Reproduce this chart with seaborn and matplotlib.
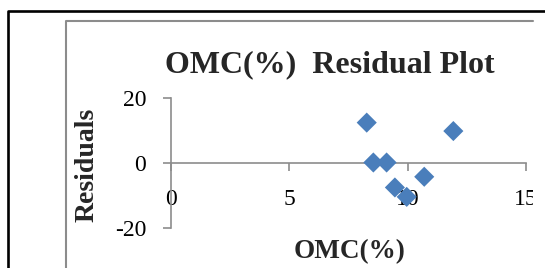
import seaborn as sns
import pandas as pd
import matplotlib.pyplot as plt
from matplotlib.lines import Line2D
from matplotlib.patches import Rectangle

# values
omc = [8.27, 8.55, 9.11, 9.46, 9.96, 10.70, 11.93]
residuals = [12.5, 0.2, 0.2, -7.5, -10.4, -4.2, 9.9]
x_ticks = [0, 5, 10, 15]
y_ticks = [-20, 0, 20]

df = pd.DataFrame({'OMC(%)': omc, 'Residuals': residuals})

sns.set_style("white")
plt.rcParams['font.family'] = ['Liberation Serif', 'DejaVu Serif']
plt.rcParams['axes.unicode_minus'] = False

W, H = 545, 268
fig = plt.figure(figsize=(W / 100, H / 100), dpi=100)
ax = fig.add_axes([171 / W, 40 / H, 355 / W, 129.7 / H])

sns.scatterplot(x='OMC(%)', y='Residuals', data=df, ax=ax, marker='D', s=105,
                color='#4A7EBB', edgecolor='none', linewidth=0, zorder=3)

ax.set_xlim(0, 15)
ax.set_ylim(-20, 20)
ax.set_xticks(x_ticks)
ax.set_yticks(y_ticks)
ax.set_xlabel('')
ax.set_ylabel('')

axis_grey = '#8c8c8c'
for side in ['top', 'right']:
    ax.spines[side].set_visible(False)
ax.spines['bottom'].set_position(('data', 0))
for side in ['left', 'bottom']:
    ax.spines[side].set_color(axis_grey)
    ax.spines[side].set_linewidth(1.2)
    ax.spines[side].set_zorder(2)

ax.tick_params(axis='both', direction='out', length=5.8, width=1.2, color=axis_grey,
               labelsize=17, labelcolor='black')
ax.tick_params(axis='x', pad=12.5, bottom=True)
ax.tick_params(axis='y', pad=12, left=True)
ax.set_facecolor('none')

fig.text(330 / W, (H - 72) / H, 'OMC(%)  Residual Plot', ha='center', va='baseline',
         fontsize=23, fontweight='bold')
fig.text(87 / W, (H - 165) / H, 'Residuals', ha='center', va='center', rotation=90,
         fontsize=20, fontweight='bold')
fig.text(350 / W, (H - 258) / H, 'OMC(%)', ha='center', va='baseline',
         fontsize=19.5, fontweight='bold')

# the chart area ends at x~533, everything right of it is clipped white
fig.add_artist(Rectangle((533 / W, -0.01), 0.1, (H - 12) / H + 0.01, facecolor='white',
                         edgecolor='none', transform=fig.transFigure, zorder=5))

# chart frames (cut off at the right and bottom, like the reference)
fig.add_artist(Line2D([8 / W, 8 / W, 1.01], [-0.01, (H - 11) / H, (H - 11) / H],
                      color='black', linewidth=1.9, transform=fig.transFigure, zorder=6))
fig.add_artist(Line2D([65.5 / W, 65.5 / W, 533 / W], [-0.01, (H - 21) / H, (H - 21) / H],
                      color='#8c8c8c', linewidth=1.5, transform=fig.transFigure, zorder=6))

plt.savefig('out.png', dpi=100)
